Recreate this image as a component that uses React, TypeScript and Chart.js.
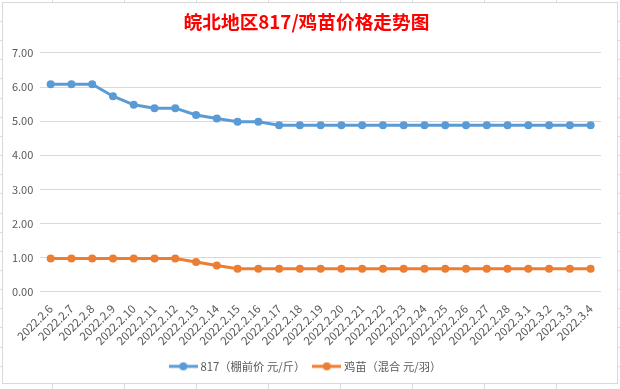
import React, { useEffect, useRef } from 'react';
import { Chart, registerables } from 'chart.js';

Chart.register(...registerables);

const categories = [
  '2022.2.6', '2022.2.7', '2022.2.8', '2022.2.9', '2022.2.10', '2022.2.11', '2022.2.12',
  '2022.2.13', '2022.2.14', '2022.2.15', '2022.2.16', '2022.2.17', '2022.2.18', '2022.2.19',
  '2022.2.20', '2022.2.21', '2022.2.22', '2022.2.23', '2022.2.24', '2022.2.25', '2022.2.26',
  '2022.2.27', '2022.2.28', '2022.3.1', '2022.3.2', '2022.3.3', '2022.3.4',
];

const price817 = [
  6.08, 6.08, 6.08, 5.73, 5.48, 5.38, 5.38, 5.18, 5.08, 4.98, 4.98,
  4.88, 4.88, 4.88, 4.88, 4.88, 4.88, 4.88, 4.88, 4.88, 4.88, 4.88, 4.88, 4.88, 4.88, 4.88, 4.88,
];

const chickPrice = [
  0.97, 0.97, 0.97, 0.97, 0.97, 0.97, 0.97, 0.87, 0.77,
  0.67, 0.67, 0.67, 0.67, 0.67, 0.67, 0.67, 0.67, 0.67, 0.67, 0.67, 0.67, 0.67, 0.67, 0.67, 0.67, 0.67, 0.67,
];

const seriesNames = ['817（棚前价 元/斤）', '鸡苗（混合 元/羽）'];
const titleText = '皖北地区817/鸡苗价格走势图';
const yTicks = { min: 0, max: 7, step: 1 };

const BLUE = '#5B9BD5';
const ORANGE = '#ED7D31';
const FONT = '"Noto Sans CJK SC", "Noto Sans", sans-serif';

function legendIcon(color: string) {
  const c = document.createElement('canvas');
  c.width = 29;
  c.height = 10;
  const ctx = c.getContext('2d')!;
  ctx.strokeStyle = color;
  ctx.lineWidth = 3;
  ctx.beginPath();
  ctx.moveTo(0, 5);
  ctx.lineTo(29, 5);
  ctx.stroke();
  ctx.fillStyle = color;
  ctx.beginPath();
  ctx.arc(14.5, 5, 4, 0, Math.PI * 2);
  ctx.fill();
  return c;
}

export default function App() {
  const ref = useRef<HTMLCanvasElement>(null);

  useEffect(() => {
    document.body.style.margin = '0';
    const icons = [legendIcon(BLUE), legendIcon(ORANGE)];
    const chart = new Chart(ref.current!, {
      type: 'line',
      data: {
        labels: categories,
        datasets: [
          {
            label: seriesNames[0],
            data: price817,
            borderColor: BLUE,
            backgroundColor: BLUE,
            pointBackgroundColor: BLUE,
            pointBorderColor: BLUE,
            borderWidth: 3,
            pointRadius: 4,
            pointBorderWidth: 0,
            tension: 0,
          },
          {
            label: seriesNames[1],
            data: chickPrice,
            borderColor: ORANGE,
            backgroundColor: ORANGE,
            pointBackgroundColor: ORANGE,
            pointBorderColor: ORANGE,
            borderWidth: 3,
            pointRadius: 4,
            pointBorderWidth: 0,
            tension: 0,
          },
        ],
      },
      options: {
        animation: false,
        responsive: false,
        layout: { padding: { left: 9, right: 16, top: 0, bottom: 1 } },
        scales: {
          x: {
            offset: true,
            grid: { display: false, offset: true, drawTicks: false },
            border: { display: false },
            ticks: {
              color: '#595959',
              font: { family: FONT, size: 11.5 },
              minRotation: 45,
              maxRotation: 45,
              autoSkip: false,
              padding: 10,
            },
            afterFit: (s: any) => { s.height = 59; },
          },
          y: {
            min: yTicks.min,
            max: yTicks.max,
            ticks: {
              stepSize: yTicks.step,
              color: '#595959',
              font: { family: FONT, size: 11 },
              padding: 7,
              callback: (v: any) => Number(v).toFixed(2),
            },
            grid: { color: '#d9d9d9', drawTicks: false },
            border: { display: false },
            afterFit: (s: any) => { s.width = 28.3; },
          },
        },
        plugins: {
          title: {
            display: true,
            text: titleText,
            color: '#FF0000',
            font: { family: FONT, size: 18.7, weight: 'bold' },
            padding: { top: 7.5, bottom: 20 },
          },
          legend: {
            position: 'bottom',
            labels: {
              usePointStyle: true,
              pointStyleWidth: 23,
              padding: 10,
              color: '#595959',
              font: { family: FONT, size: 11.3 },
              generateLabels: (ch: any) => {
                const items = Chart.defaults.plugins.legend.labels.generateLabels(ch);
                return items.map((it: any, i: number) => ({ ...it, pointStyle: icons[i] }));
              },
            },
          },
          tooltip: { enabled: false },
        },
      } as any,
    });
    return () => chart.destroy();
  }, []);

  const cols = [52, 124, 196, 268, 340, 412, 484, 556];
  const rows: number[] = [];
  for (let k = 0; k < 19; k++) rows.push(21 + 19.15 * k);
  const gridColor = '#dadcdd';

  return (
    <div style={{ position: 'relative', width: 620, height: 389, background: '#fff', overflow: 'hidden' }}>
      {cols.map((x) => (
        <div key={'t' + x} style={{ position: 'absolute', left: x, top: 0, width: 1, height: 2, background: gridColor }} />
      ))}
      {cols.map((x) => (
        <div key={'b' + x} style={{ position: 'absolute', left: x, top: 384, width: 1, height: 5, background: gridColor }} />
      ))}
      {rows.map((y) => (
        <div key={'l' + y} style={{ position: 'absolute', left: 0, top: Math.round(y), width: 2, height: 1, background: gridColor }} />
      ))}
      {rows.map((y) => (
        <div key={'r' + y} style={{ position: 'absolute', left: 618, top: Math.round(y), width: 2, height: 1, background: gridColor }} />
      ))}
      <div style={{ position: 'absolute', left: 2, top: 2, width: 614, height: 380, border: '1px solid #d9d9d9', background: '#fff' }}>
        <canvas ref={ref} width={614} height={380} style={{ display: 'block' }} />
      </div>
    </div>
  );
}
